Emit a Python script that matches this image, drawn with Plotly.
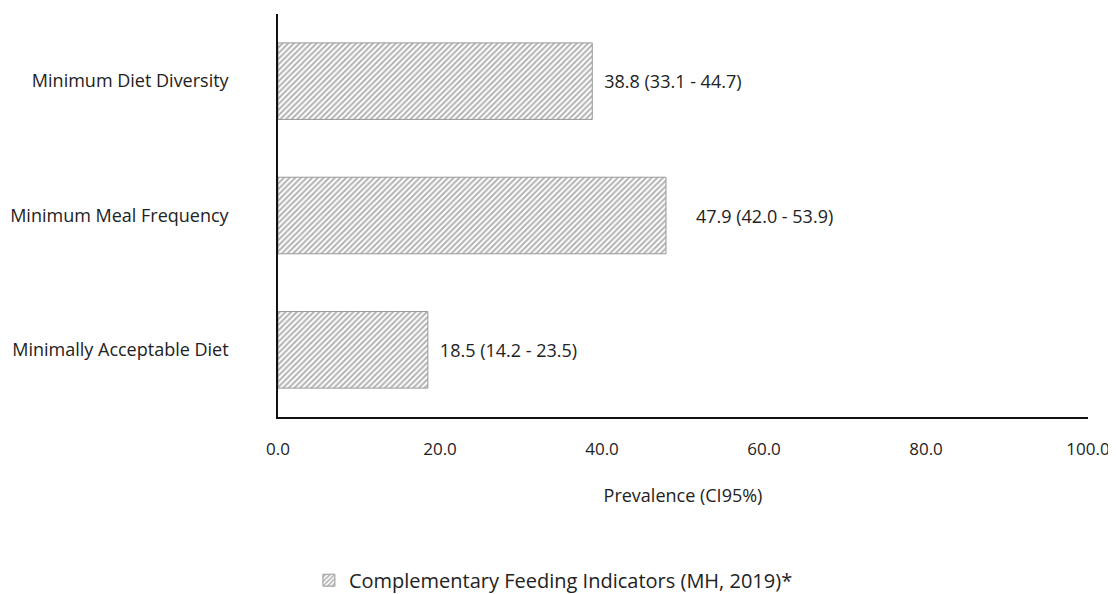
import plotly.graph_objects as go

categories = ["Minimum Diet Diversity", "Minimum Meal Frequency", "Minimally Acceptable Diet"]
prevalence = [38.8, 47.9, 18.5]
ci_low = [33.1, 42.0, 14.2]
ci_high = [44.7, 53.9, 23.5]
tick_vals = [0, 20, 40, 60, 80, 100]
tick_text = ["0.0", "20.0", "40.0", "60.0", "80.0", "100.0"]
label_pad = ["\u2002", "\u2002\u2002\u2002", "\u2002"]

labels = [f"{pad}{p:.1f} ({lo:.1f} - {hi:.1f})" for pad, p, lo, hi in zip(label_pad, prevalence, ci_low, ci_high)]

FONT = "Open Sans, Noto Sans, sans-serif"

fig = go.Figure()
fig.add_trace(go.Bar(
    y=categories, x=prevalence, orientation="h",
    name="Complementary Feeding Indicators (MH, 2019)*",
    text=labels, textposition="outside", cliponaxis=False,
    textfont=dict(size=18, color="#222", family=FONT),
    width=0.57,
    marker=dict(color="white", line=dict(color="#999", width=1),
                pattern=dict(shape="/", fgcolor="#666", bgcolor="white", size=4, solidity=0.5)),
))

fig.update_layout(
    width=1108, height=586,
    margin=dict(l=270, r=28, t=6, b=177, autoexpand=False),
    paper_bgcolor="white", plot_bgcolor="white",
    font=dict(family=FONT, size=18, color="#222"),
    showlegend=True,
    legend=dict(orientation="h", x=0.34, xanchor="center",
                y=-0.405, yanchor="middle", font=dict(size=20, color="#222")),
    xaxis=dict(range=[0, 100], tickvals=tick_vals, ticktext=tick_text, showgrid=False, zeroline=False,
               automargin=False,
               showline=True, linecolor="#111", linewidth=1.5, ticks="", ticklabelstandoff=16,
               tickfont=dict(size=17, color="#222"),
               title=dict(text="Prevalence (CI95%)", standoff=30, font=dict(size=18, color="#222"))),
    yaxis=dict(autorange=False, range=[2.5, -0.5], showgrid=False, zeroline=False,
               automargin=False,
               showline=True, linecolor="#111", linewidth=1.5, ticks="", ticklabelstandoff=44,
               tickfont=dict(size=18, color="#222")),
)

fig.write_html("out.html")
